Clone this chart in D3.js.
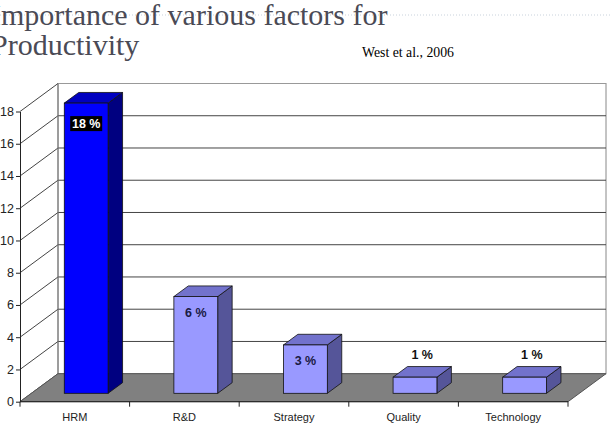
<!DOCTYPE html>
<html>
<head>
<meta charset="utf-8">
<script src="https://cdn.jsdelivr.net/npm/d3@7"></script>
<style>
  html, body { margin: 0; padding: 0; background: #fff; overflow: hidden; }
  svg { display: block; }
  .axis text { font-family: Arial, "Liberation Sans", sans-serif; }
  .serif { font-family: "Liberation Serif", "Times New Roman", serif; }
</style>
</head>
<body>
<div id="chart"></div>
<script>
const width = 612,
    height = 427;

// chart data
const categories = ["HRM", "R&D", "Strategy", "Quality", "Technology"];
const values = [18, 6, 3, 1, 1];
const valueLabels = ["18 %", "6 %", "3 %", "1 %", "1 %"];
const yTicks = [0, 2, 4, 6, 8, 10, 12, 14, 16, 18];

// 3D depth of the plot box (front -> back wall)
const DX = 38, DY = -28;
// bars sit between these depth fractions
const f0 = 0.3, f1 = 0.68;

let svg = d3.select('#chart').append('svg')
    .attr('width', width)
    .attr('height', height);

let x = d3.scaleBand()
    .domain(categories)
    .range([20, 568])
    .paddingInner(0)
    .paddingOuter(0);

let y = d3.scaleLinear()
    .domain([0, 18])
    .range([401.7, 111.5]);

// title
svg.append("line")
    .attr("x1", 0).attr("x2", width)
    .attr("y1", 15).attr("y2", 15)
    .style("stroke", "#c9d2dc")
    .style("stroke-dasharray", "1,2");

let title = svg.append("text")
    .attr("class", "serif")
    .style("font-size", "29px")
    .attr("fill", "#4a4a55");
let t1 = title.append("tspan").attr("class", "serif").attr("x", -9).attr("y", 25).text("Importance of various factors for");
title.append("tspan").attr("class", "serif").attr("x", -9).attr("y", 55).text("Productivity");
// scale the title so its first line spans the same width as the reference
let len = t1.node().getComputedTextLength();
if (len > 0) title.style("font-size", Math.min(30, 29 * 414 / len) + "px");

svg.append("text")
    .attr("class", "serif")
    .attr("x", 362).attr("y", 57)
    .style("font-size", "13.8px")
    .attr("fill", "#000")
    .text("West et al., 2006");

let x0 = x.range()[0], x1 = x.range()[1];

// back wall
svg.append("rect")
    .attr("x", x0 + DX)
    .attr("y", y(18) + DY)
    .attr("width", x1 - x0)
    .attr("height", y(0) - y(18))
    .attr("fill", "#fff")
    .style("stroke", "#888");

// grid lines on back wall and left side wall
svg.append("g")
    .selectAll("line")
    .data(yTicks.filter(t => t > 0))
    .enter()
    .append("line")
    .attr("x1", x0 + DX).attr("x2", x1 + DX)
    .attr("y1", d => y(d) + DY).attr("y2", d => y(d) + DY)
    .style("stroke", d => d === 18 ? "#999" : "#444");

svg.append("g")
    .selectAll("line")
    .data(yTicks)
    .enter()
    .append("line")
    .attr("x1", x0).attr("x2", x0 + DX)
    .attr("y1", d => y(d)).attr("y2", d => y(d) + DY)
    .style("stroke", "#444");

svg.append("line")
    .attr("x1", x0 + DX).attr("x2", x0 + DX)
    .attr("y1", y(18) + DY).attr("y2", y(0) + DY)
    .style("stroke", "#777");

// floor
svg.append("polygon")
    .attr("points", [
        [x0, y(0)], [x1, y(0)], [x1 + DX, y(0) + DY], [x0 + DX, y(0) + DY]
    ].map(p => p.join(",")).join(" "))
    .attr("fill", "#808080")
    .style("stroke", "#555");

// bars
const bw = x.bandwidth();
const ddx = (f1 - f0) * DX, ddy = (f1 - f0) * DY;

function barGeom(c, v) {
    const left = x(c) + bw * 0.3 + f0 * DX;
    const right = left + bw * 0.4;
    const bottom = y(0) + f0 * DY;
    const top = y(v) + f0 * DY;
    return { left, right, bottom, top };
}

let bars = svg.append("g")
    .selectAll("g")
    .data(categories.map((c, i) => ({ c, v: values[i], label: valueLabels[i], i })))
    .enter()
    .append("g");

bars.append("polygon")
    .attr("points", d => {
        const g = barGeom(d.c, d.v);
        return [[g.right, g.top], [g.right + ddx, g.top + ddy], [g.right + ddx, g.bottom + ddy], [g.right, g.bottom]]
            .map(p => p.join(",")).join(" ");
    })
    .attr("fill", d => d.i === 0 ? "#000080" : "#555599")
    .style("stroke", "#111")
    .style("stroke-width", 0.8);

bars.append("polygon")
    .attr("points", d => {
        const g = barGeom(d.c, d.v);
        return [[g.left, g.top], [g.right, g.top], [g.right + ddx, g.top + ddy], [g.left + ddx, g.top + ddy]]
            .map(p => p.join(",")).join(" ");
    })
    .attr("fill", d => d.i === 0 ? "#0000c0" : "#7272cc")
    .style("stroke", "#111")
    .style("stroke-width", 0.8);

bars.append("rect")
    .attr("x", d => barGeom(d.c, d.v).left)
    .attr("y", d => barGeom(d.c, d.v).top)
    .attr("width", bw * 0.4)
    .attr("height", d => barGeom(d.c, d.v).bottom - barGeom(d.c, d.v).top)
    .attr("fill", d => d.i === 0 ? "#0000ff" : "#9999ff")
    .style("stroke", "#111")
    .style("stroke-width", 0.8);

// value labels
bars.each(function (d) {
    const g = barGeom(d.c, d.v);
    const cx = (g.left + g.right) / 2;
    const sel = d3.select(this);
    if (d.i === 0) {
        sel.append("rect")
            .attr("x", cx - 16).attr("y", g.top + 13)
            .attr("width", 32).attr("height", 15)
            .attr("fill", "#000");
        sel.append("text")
            .attr("x", cx).attr("y", g.top + 25)
            .attr("text-anchor", "middle")
            .attr("font-family", "Arial, 'Liberation Sans', sans-serif")
            .attr("font-weight", "bold").attr("font-size", 12.5)
            .attr("fill", "#fff")
            .text(d.label);
    } else if (d.v > 2) {
        sel.append("text")
            .attr("x", cx).attr("y", g.top + 20)
            .attr("text-anchor", "middle")
            .attr("font-family", "Arial, 'Liberation Sans', sans-serif")
            .attr("font-weight", "bold").attr("font-size", 12.5)
            .attr("fill", "#1a1a44")
            .text(d.label);
    } else {
        sel.append("text")
            .attr("x", cx + ddx / 2).attr("y", g.top + ddy - 8)
            .attr("text-anchor", "middle")
            .attr("font-family", "Arial, 'Liberation Sans', sans-serif")
            .attr("font-weight", "bold").attr("font-size", 12.5)
            .attr("fill", "#111")
            .text(d.label);
    }
});

// front floor edge
svg.append("line")
    .attr("x1", x0).attr("x2", x1)
    .attr("y1", y(0)).attr("y2", y(0))
    .style("stroke", "#222");

// y axis
let yAxis = svg.append("g")
    .attr("class", "axis")
    .attr("transform", `translate(${x0},0)`)
    .call(d3.axisLeft(y).tickValues(yTicks).tickSize(4).tickPadding(2).tickSizeOuter(0));
yAxis.selectAll("text").attr("font-size", 12.5).attr("fill", "#222");
yAxis.selectAll("line, path").style("stroke", "#222");

// x axis labels at band centres
let xAxis = svg.append("g")
    .attr("class", "axis")
    .attr("transform", `translate(0,${y(0)})`)
    .call(d3.axisBottom(x).tickSize(0).tickPadding(12));
xAxis.select(".domain").remove();
xAxis.selectAll("text").attr("font-size", 11).attr("fill", "#222");

// category boundary ticks
svg.append("g")
    .selectAll("line")
    .data(categories.map(c => x(c)).concat([x1]))
    .enter()
    .append("line")
    .attr("x1", d => d).attr("x2", d => d)
    .attr("y1", y(0)).attr("y2", y(0) + 5)
    .style("stroke", "#222");
</script>
</body>
</html>
